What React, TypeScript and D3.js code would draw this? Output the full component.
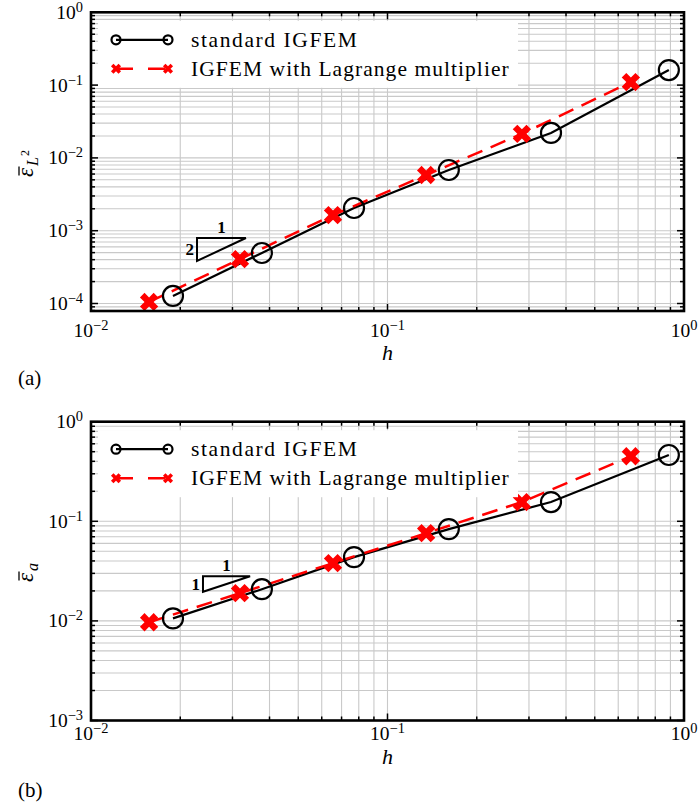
import React from 'react';
import * as d3 from 'd3';

// ---- data ----
const hStandard = [0.0189, 0.0377, 0.0771, 0.161, 0.356, 0.889];
const hLagrange = [0.0157, 0.0318, 0.0655, 0.135, 0.284, 0.662];
const errL2Standard = [1.27e-4, 4.94e-4, 2.05e-3, 6.82e-3, 0.022, 0.161];
const errL2Lagrange = [1.05e-4, 4.08e-4, 1.64e-3, 5.82e-3, 0.0214, 0.11];
const errAStandard = [0.0106, 0.0208, 0.0437, 0.0835, 0.156, 0.463];
const errALagrange = [0.0097, 0.019, 0.038, 0.076, 0.156, 0.45];
const seriesNames = ['standard IGFEM', 'IGFEM with Lagrange multiplier'];
const xTickExps = [-2, -1, 0];
const yTickExpsA = [-4, -3, -2, -1, 0];
const yTickExpsB = [-3, -2, -1, 0];
const slopeA = { x: [0.02278, 0.0333], y: [7.94e-4, 3.84e-4], top: '1', left: '2' };
const slopeB = { x: [0.02386, 0.0344], y: [0.0281, 0.0196], top: '1', left: '1' };

const FONT = 'Liberation Serif, DejaVu Serif, serif';
const X0 = 91;
const X1 = 684;

function minorValues(lo: number, hi: number): { v: number; major: boolean }[] {
  const out: { v: number; major: boolean }[] = [];
  const k0 = Math.floor(Math.log10(lo));
  const k1 = Math.ceil(Math.log10(hi));
  for (let k = k0; k <= k1; k++) {
    for (let m = 1; m <= 9; m++) {
      const v = m * Math.pow(10, k);
      if (v >= lo * 0.9999 && v <= hi * 1.0001) out.push({ v, major: m === 1 });
    }
  }
  return out;
}

function Pow10({ x, y, e, anchor, size = 19.5 }: { x: number; y: number; e: number; anchor: string; size?: number }) {
  const s = e < 0 ? '\u2212' + Math.abs(e) : String(e);
  return (
    <text x={x} y={y} textAnchor={anchor} style={{ fontFamily: FONT }} fontSize={size} fill="#000">
      <tspan>10</tspan>
      <tspan dy={-7} fontSize={size * 0.74}>{s}</tspan>
    </text>
  );
}

type PanelProps = {
  y0: number;
  y1: number;
  yMin: number;
  yTickExps: number[];
  std: number[];
  lag: number[];
  tri: { x: number[]; y: number[]; top: string; left: string };
  ylabel: 'L2' | 'a';
  labelCy: number;
  tag: string;
  tickLabelY: number;
  hY: number;
  tagY: number;
};

function Panel(p: PanelProps) {
  const x = d3.scaleLog().domain([1e-2, 1]).range([X0, X1]);
  const y = d3.scaleLog().domain([p.yMin, 1]).range([p.y1, p.y0]);
  const xs = minorValues(1e-2, 1);
  const ys = minorValues(p.yMin, 1);
  const line = d3
    .line<[number, number]>()
    .x((d) => x(d[0]))
    .y((d) => y(d[1]));
  const stdPts: [number, number][] = hStandard.map((h, i) => [h, p.std[i]]);
  const lagPts: [number, number][] = hLagrange.map((h, i) => [h, p.lag[i]]);
  const xSym = d3.symbol().type(d3.symbolCross).size(210)();
  const xSymSmall = d3.symbol().type(d3.symbolCross).size(64)();
  const grid = '#c9c9c9';
  const majLen = 7;
  const minLen = 4;
  const lgTop = p.y0 + 8.5;
  const l1 = lgTop + 19;
  const l2 = lgTop + 48;
  const t = p.tri;
  const tx0 = x(t.x[0]);
  const tx1 = x(t.x[1]);
  const ty0 = y(t.y[0]);
  const ty1 = y(t.y[1]);
  const st = { fontFamily: FONT };
  const isL2 = p.ylabel === 'L2';
  const eps0 = isL2 ? -15 : -10;
  return (
    <g>
      {/* grid */}
      {xs.map((d, i) => (
        <line key={'gx' + i} x1={x(d.v)} x2={x(d.v)} y1={p.y0} y2={p.y1} stroke={grid} strokeWidth={1.1} />
      ))}
      {ys.map((d, i) => (
        <line key={'gy' + i} x1={X0} x2={X1} y1={y(d.v)} y2={y(d.v)} stroke={grid} strokeWidth={1.1} />
      ))}
      {/* series */}
      <path d={line(stdPts) || ''} fill="none" stroke="#000" strokeWidth={2.2} />
      <path d={line(lagPts) || ''} fill="none" stroke="#ff0000" strokeWidth={2.5} strokeDasharray="16 9" />
      {stdPts.map((d, i) => (
        <circle key={'c' + i} cx={x(d[0])} cy={y(d[1])} r={10} fill="none" stroke="#000" strokeWidth={2.2} />
      ))}
      {lagPts.map((d, i) => (
        <path key={'x' + i} d={xSym || ''} transform={`translate(${x(d[0])},${y(d[1])}) rotate(45)`} fill="#ff0000" />
      ))}
      {/* slope triangle */}
      <path d={`M${tx0},${ty0}L${tx1},${ty0}L${tx0},${ty1}Z`} fill="none" stroke="#000" strokeWidth={2} />
      <text x={(tx0 + tx1) / 2} y={ty0 - 5} textAnchor="middle" style={st} fontWeight="bold" fontSize={17}>
        {t.top}
      </text>
      <text x={tx0 - 3} y={(ty0 + ty1) / 2 + 6} textAnchor="end" style={st} fontWeight="bold" fontSize={17}>
        {t.left}
      </text>
      {/* legend */}
      <rect x={98} y={lgTop} width={420} height={67} fill="#fff" />
      <line x1={116} x2={168} y1={l1} y2={l1} stroke="#000" strokeWidth={2.2} />
      <circle cx={116} cy={l1} r={4.5} fill="none" stroke="#000" strokeWidth={2.2} />
      <circle cx={168} cy={l1} r={4.5} fill="none" stroke="#000" strokeWidth={2.2} />
      <line x1={116} x2={168} y1={l2} y2={l2} stroke="#ff0000" strokeWidth={2.5} strokeDasharray="17 15" />
      <path d={xSymSmall || ''} transform={`translate(116,${l2}) rotate(45)`} fill="#ff0000" />
      <path d={xSymSmall || ''} transform={`translate(168,${l2}) rotate(45)`} fill="#ff0000" />
      <text x={191} y={l1 + 7} style={st} fontSize={21.5} letterSpacing={1.6}>
        {seriesNames[0]}
      </text>
      <text x={191} y={l2 + 7} style={st} fontSize={21.5} letterSpacing={1.05}>
        {seriesNames[1]}
      </text>
      {/* ticks */}
      {xs.map((d, i) => {
        const L = d.major ? majLen : minLen;
        const xv = x(d.v);
        return (
          <g key={'tx' + i}>
            <line x1={xv} x2={xv} y1={p.y1} y2={p.y1 - L} stroke="#000" strokeWidth={1.5} />
            <line x1={xv} x2={xv} y1={p.y0} y2={p.y0 + L} stroke="#000" strokeWidth={1.5} />
          </g>
        );
      })}
      {ys.map((d, i) => {
        const L = d.major ? majLen : minLen;
        const yv = y(d.v);
        return (
          <g key={'ty' + i}>
            <line x1={X0} x2={X0 + L} y1={yv} y2={yv} stroke="#000" strokeWidth={1.5} />
            <line x1={X1} x2={X1 - L} y1={yv} y2={yv} stroke="#000" strokeWidth={1.5} />
          </g>
        );
      })}
      <rect x={X0} y={p.y0} width={X1 - X0} height={p.y1 - p.y0} fill="none" stroke="#000" strokeWidth={2.6} />
      {/* tick labels */}
      {xTickExps.map((e) => (
        <Pow10 key={'lx' + e} x={x(Math.pow(10, e))} y={p.tickLabelY} e={e} anchor="middle" />
      ))}
      {p.yTickExps.map((e) => (
        <Pow10 key={'ly' + e} x={83} y={y(Math.pow(10, e)) + 6.5} e={e} anchor="end" />
      ))}
      {/* axis labels */}
      <text x={(X0 + X1) / 2} y={p.hY} textAnchor="middle" style={st} fontStyle="italic" fontSize={22}>
        h
      </text>
      <g transform={`translate(33,${p.labelCy}) rotate(-90)`}>
        <text x={eps0} y={0} style={st} fontStyle="italic" fontSize={23}>
          {'\u03b5'}
        </text>
        <line x1={eps0 + 1.5} x2={eps0 + 10.5} y1={-14} y2={-14} stroke="#000" strokeWidth={1.3} />
        {isL2 ? (
          <text x={eps0 + 11} y={5} style={st} fontStyle="italic" fontSize={16}>
            <tspan>L</tspan>
            <tspan fontSize={12} dy={-9} fontStyle="normal" dx={1}>2</tspan>
          </text>
        ) : (
          <text x={eps0 + 11} y={5} style={st} fontStyle="italic" fontSize={16}>
            a
          </text>
        )}
      </g>
      <text x={18} y={p.tagY} style={st} fontSize={21}>
        {p.tag}
      </text>
    </g>
  );
}

export default function App() {
  return (
    <svg
      width={698}
      height={806}
      viewBox="0 0 698 806"
      style={{ position: 'absolute', left: 0, top: 0, background: '#fff' }}
    >
      <rect width={698} height={806} fill="#fff" />
      <Panel
        y0={12.3}
        y1={311}
        yMin={Math.pow(10, -4.103)}
        yTickExps={yTickExpsA}
        std={errL2Standard}
        lag={errL2Lagrange}
        tri={slopeA}
        ylabel="L2"
        labelCy={162}
        tag="(a)"
        tickLabelY={337}
        hY={360}
        tagY={385}
      />
      <Panel
        y0={421.7}
        y1={720.5}
        yMin={1e-3}
        yTickExps={yTickExpsB}
        std={errAStandard}
        lag={errALagrange}
        tri={slopeB}
        ylabel="a"
        labelCy={572}
        tag="(b)"
        tickLabelY={740}
        hY={764}
        tagY={797}
      />
    </svg>
  );
}
